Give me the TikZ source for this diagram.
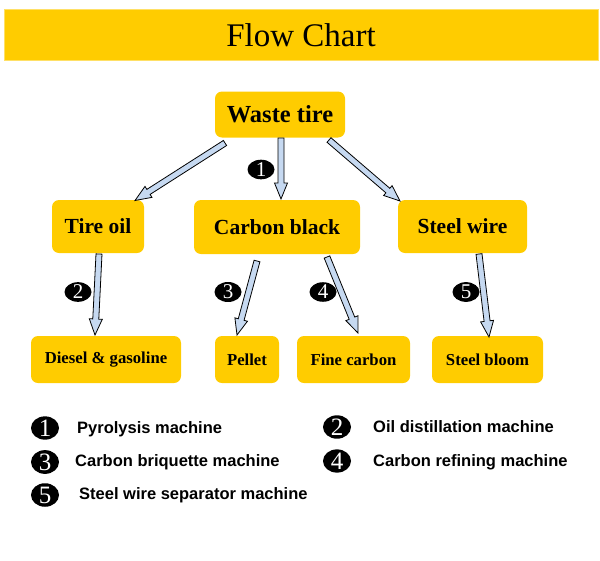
\documentclass[tikz,border=0pt]{standalone}
\usepackage{fontspec}
\setmainfont{Liberation Serif}
\newfontfamily\legendfont{Liberation Sans}
\usetikzlibrary{calc,shapes.geometric}
\definecolor{boxyellow}{HTML}{FFCC00}
\definecolor{arrowblue}{HTML}{C6D9F1}
\newcommand\blockarrow[2]{%
  \coordinate (bahead) at ($(#2)!16pt!(#1)$);
  \draw[barrow] ($(#1)!3pt!90:(#2)$) -- ($(bahead)!3pt!90:(#2)$) -- ($(bahead)!6.5pt!90:(#2)$) -- (#2) -- ($(bahead)!6.5pt!-90:(#2)$) -- ($(bahead)!3pt!-90:(#2)$) -- ($(#1)!3pt!-90:(#2)$) -- cycle;}
\begin{document}
\begin{tikzpicture}[x=1pt,y=-1pt,
  box/.style={fill=boxyellow, rounded corners=7pt, inner sep=0pt, font=\bfseries\fontsize{21.5}{24}\selectfont},
  smallbox/.style={box, font=\bfseries\fontsize{16.7}{19}\selectfont},
  barrow/.style={draw=black, fill=arrowblue, line width=0.8pt, line join=miter},
  numlabel/.style={ellipse, fill=black, text=white, inner sep=0pt, minimum width=27pt, minimum height=18pt, font=\fontsize{21}{21}\selectfont},
  legnum/.style={numlabel, minimum width=28pt, minimum height=22pt, font=\fontsize{25}{25}\selectfont},
  legtext/.style={anchor=base west, inner sep=0pt, font=\legendfont\bfseries\fontsize{16.5}{19}\selectfont}]
\useasboundingbox (0,0) rectangle (600,560);
% title
\node[fill=boxyellow, draw=boxyellow!60, minimum width=594pt, minimum height=51pt, inner sep=0pt, font=\fontsize{33}{36}\selectfont] (title) at (301,35) {Flow Chart};
% boxes
\node[box, minimum width=130pt, minimum height=46pt, font=\bfseries\fontsize{24.5}{27}\selectfont] (wt) at (280,114.5) {Waste tire};
\node[box, minimum width=92pt, minimum height=53pt] (to) at (98,226.5) {Tire oil};
\node[box, minimum width=166pt, minimum height=54pt] (cb) at (277,227) {Carbon black};
\node[box, minimum width=129pt, minimum height=53pt] (sw) at (462.5,226.5) {Steel wire};
\node[smallbox, minimum width=150pt, minimum height=47pt] (dg) at (106,359.5) {Diesel \& gasoline};
\node[smallbox, minimum width=64pt, minimum height=47pt] (pe) at (247,359.5) {Pellet};
\node[smallbox, minimum width=113pt, minimum height=47pt] (fc) at (353.5,359.5) {Fine carbon};
\node[smallbox, minimum width=111pt, minimum height=47pt] (sb) at (487.5,359.5) {Steel bloom};
% arrow end points
\coordinate (a1s) at (225,143);
\coordinate (a1e) at (135,200.5);
\coordinate (a2s) at (281,138);
\coordinate (a2e) at (281,199);
\coordinate (a3s) at (329,140);
\coordinate (a3e) at (400,201);
\coordinate (b2s) at (99,254);
\coordinate (b2e) at (95,335);
\coordinate (b3s) at (257,261);
\coordinate (b3e) at (237,335);
\coordinate (b4s) at (327,257);
\coordinate (b4e) at (358,333);
\coordinate (b5s) at (479,254);
\coordinate (b5e) at (489,337);
\blockarrow{a1s}{a1e}
\blockarrow{a2s}{a2e}
\blockarrow{a3s}{a3e}
\blockarrow{b2s}{b2e}
\blockarrow{b3s}{b3e}
\blockarrow{b4s}{b4e}
\blockarrow{b5s}{b5e}
% arrow labels
\node[numlabel] (n1) at (261,169.5) {1};
\node[numlabel] (n2) at (78,292) {2};
\node[numlabel] (n3) at (228,292) {3};
\node[numlabel] (n4) at (323,292) {4};
\node[numlabel] (n5) at (466,292) {5};
% legend
\node[legnum] (l1) at (45,428) {1};
\node[legtext] (t1) at (77,433) {Pyrolysis machine};
\node[legnum] (l2) at (337,427) {2};
\node[legtext] (t2) at (373,432) {Oil distillation machine};
\node[legnum] (l3) at (45,462) {3};
\node[legtext] (t3) at (75,466) {Carbon briquette machine};
\node[legnum] (l4) at (337,461) {4};
\node[legtext] (t4) at (373,466) {Carbon refining machine};
\node[legnum] (l5) at (45,495) {5};
\node[legtext] (t5) at (79,499) {Steel wire separator machine};
\end{tikzpicture}
\end{document}
